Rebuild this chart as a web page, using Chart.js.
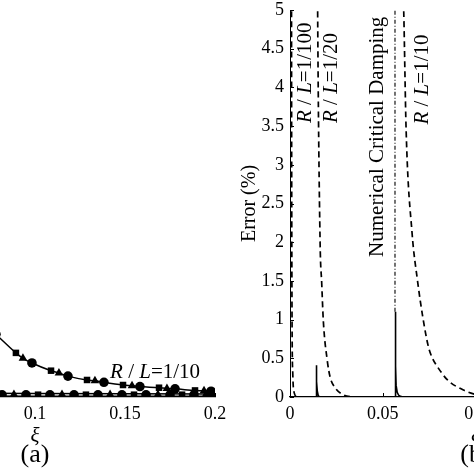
<!DOCTYPE html>
<html><head><meta charset="utf-8">
<script src="https://cdn.jsdelivr.net/npm/chart.js@4.4.1/dist/chart.umd.min.js"></script>
<style>
html,body{margin:0;padding:0;width:474px;height:474px;overflow:hidden;background:#fff;}
#ca{position:absolute;left:-215px;top:0;}
#cb{position:absolute;left:220px;top:0;}
</style></head><body>
<canvas id="ca" width="450" height="474" style="width:450px;height:474px"></canvas>
<canvas id="cb" width="441" height="474" style="width:441px;height:474px"></canvas>
<script>
// ---- shared ticks ----
const xTickVals = [0, 0.05, 0.1, 0.15, 0.2];
const yTickVals = [0, 0.5, 1, 1.5, 2, 2.5, 3, 3.5, 4, 4.5, 5];

// ---- panel (a) ----
const a10LineXi  = [0.07, 0.0783, 0.0806, 0.0894, 0.0933, 0.0983, 0.1089, 0.1133, 0.1183, 0.1289, 0.1333, 0.1383, 0.1489, 0.1539, 0.1583, 0.1689, 0.1733, 0.1778, 0.1889, 0.1939, 0.1978, 0.2];
const a10LineVal = [1.1, 0.81, 0.76, 0.57, 0.50, 0.44, 0.34, 0.31, 0.27, 0.22, 0.21, 0.19, 0.155, 0.145, 0.135, 0.12, 0.11, 0.105, 0.085, 0.08, 0.075, 0.073];
const a10SqXi  = [0.0894, 0.1089, 0.1289, 0.1489, 0.1689, 0.1889];
const a10SqVal = [0.57, 0.34, 0.22, 0.155, 0.12, 0.085];
const a10TriXi  = [0.0933, 0.1133, 0.1333, 0.1539, 0.1733, 0.1939];
const a10TriVal = [0.50, 0.31, 0.21, 0.145, 0.11, 0.08];
const a10CirXi  = [0.0783, 0.0983, 0.1183, 0.1383, 0.1583, 0.1778, 0.1978];
const a10CirVal = [0.81, 0.44, 0.27, 0.19, 0.135, 0.105, 0.075];

const a20LineXi  = [0.07, 0.1, 0.15, 0.2];
const a20LineVal = [0.05, 0.045, 0.042, 0.04];
const a100LineXi  = [0.07, 0.1, 0.15, 0.2];
const a100LineVal = [0.012, 0.01, 0.01, 0.01];
const lowCirXi  = [0.0817, 0.095, 0.1083, 0.1217, 0.135, 0.1483, 0.1617, 0.175, 0.1883, 0.1983];
const lowCirVal = [0.028, 0.028, 0.028, 0.028, 0.028, 0.028, 0.028, 0.028, 0.028, 0.028];
const lowTriXi  = [0.0883, 0.115, 0.1417, 0.1683, 0.195];
const lowTriVal = [0.032, 0.032, 0.032, 0.032, 0.032];
const lowSqXi  = [0.1017, 0.1283, 0.155, 0.1817];
const lowSqVal = [0.03, 0.03, 0.03, 0.03];

// ---- panel (b) ----
const r100Xi  = [0.0008, 0.0009, 0.0011, 0.0015, 0.0022, 0.004, 0.2];
const r100Val = [5.5, 3, 1, 0.3, 0.06, 0, 0];
const r20Xi  = [0.0148, 0.0149, 0.0162, 0.0171, 0.018, 0.0201, 0.0216, 0.0243, 0.0286, 0.033, 0.04, 0.2];
const r20Val = [5.5, 5, 2.03, 1.47, 0.97, 0.47, 0.26, 0.12, 0.03, 0.005, 0, 0];
const r10Xi  = [0.0607, 0.0613, 0.0626, 0.0658, 0.0687, 0.0716, 0.0746, 0.0768, 0.0795, 0.0849, 0.0935, 0.0989, 0.11, 0.13, 0.2];
const r10Val = [5.5, 5, 3.45, 2.12, 1.51, 1.03, 0.65, 0.5, 0.39, 0.22, 0.09, 0.04, 0.012, 0.002, 0];
const errXi  = [0, 0.0141, 0.0142, 0.0144, 0.0147, 0.0152, 0.016, 0.0567, 0.0568, 0.0570, 0.0572, 0.0578, 0.0585, 0.0595, 0.061, 0.2];
const errVal = [0, 0, 0.41, 0.2, 0.08, 0.02, 0, 0, 1.1, 0.4, 0.15, 0.06, 0.025, 0.008, 0, 0];
const critXi  = [0.0566, 0.0566];
const critVal = [1.1, 5.5];

const SERIF = "'Liberation Serif', 'Times New Roman', serif";
const pts = (xs, ys) => xs.map((x, i) => ({x: x, y: ys[i]}));

function lineDs(xs, ys, dash, width) {
  return {type: 'line', data: pts(xs, ys), borderColor: '#000', borderWidth: width || 1.5,
    borderDash: dash || [], pointRadius: 0, fill: false, tension: 0};
}
function markDs(xs, ys, style, r) {
  return {type: 'scatter', data: pts(xs, ys), pointStyle: style, pointRadius: r,
    backgroundColor: '#000', borderColor: '#000', borderWidth: 0, showLine: false};
}

function drawRich(ctx, x, y, rot, segs, size, baseline) {
  ctx.save();
  ctx.translate(x, y);
  ctx.rotate(rot);
  ctx.textBaseline = baseline;
  ctx.textAlign = 'left';
  ctx.fillStyle = '#000';
  let cx = 0;
  segs.forEach(s => {
    ctx.font = (s.i ? 'italic ' : '') + size + 'px ' + SERIF;
    ctx.fillText(s.t, cx, 0);
    cx += ctx.measureText(s.t).width;
  });
  ctx.restore();
}
const RL = (tail) => [{t: 'R', i: true}, {t: ' / '}, {t: 'L', i: true}, {t: tail}];

function makeOptions(panelLetter, notes, showY) {
  const tickPlugin = {
    id: 'inTicks' + panelLetter,
    afterDraw(chart) {
      const ctx = chart.ctx, ca = chart.chartArea;
      const xs = chart.scales.x, ys = chart.scales.y;
      ctx.save();
      ctx.strokeStyle = '#000';
      ctx.lineWidth = 1;
      xTickVals.forEach(v => {
        const px = Math.round(xs.getPixelForValue(v)) + 0.5;
        ctx.beginPath(); ctx.moveTo(px, ca.bottom); ctx.lineTo(px, ca.bottom - 4); ctx.stroke();
      });
      yTickVals.forEach(v => {
        const py = Math.round(ys.getPixelForValue(v)) + 0.5;
        ctx.beginPath(); ctx.moveTo(ca.left, py); ctx.lineTo(ca.left + 4, py); ctx.stroke();
      });
      ctx.restore();
      notes.forEach(n => {
        drawRich(ctx, xs.getPixelForValue(n.x), ys.getPixelForValue(n.y), n.rot, n.segs, n.size, n.base);
      });
      ctx.save();
      ctx.font = '26px ' + SERIF;
      ctx.textAlign = 'center';
      ctx.textBaseline = 'middle';
      ctx.fillStyle = '#000';
      ctx.fillText('(' + panelLetter + ')', (ca.left + ca.right) / 2, 455);
      ctx.restore();
    }
  };
  return {
    plugins: [tickPlugin],
    options: {
      responsive: false, animation: false,
      layout: {padding: {top: 10, bottom: 0, left: 0, right: panelLetter === 'a' ? 20 : 0}},
      plugins: {legend: {display: false}, tooltip: {enabled: false}},
      scales: {
        x: {
          type: 'linear', min: 0, max: 0.2,
          afterBuildTicks: s => { s.ticks = xTickVals.map(v => ({value: v})); },
          afterFit: s => { s.height = 77; s.paddingLeft = 0; s.paddingRight = 0; },
          ticks: {color: '#000', padding: 6, font: {family: SERIF, size: 18}, maxRotation: 0,
                  callback: v => String(+v.toFixed(2))},
          grid: {display: true, drawOnChartArea: false, drawTicks: false},
          border: {display: true, color: '#000', width: 1.3},
          title: {display: true, text: 'ξ', color: '#000', font: {family: SERIF, size: 21, style: 'italic'},
                  padding: {top: 0, bottom: 25}}
        },
        y: {
          type: 'linear', min: 0, max: 5,
          afterBuildTicks: s => { s.ticks = yTickVals.map(v => ({value: v})); },
          afterFit: s => { s.width = 70; s.paddingTop = 0; s.paddingBottom = 0; },
          ticks: {color: '#000', padding: 6, font: {family: SERIF, size: 18},
                  callback: v => String(+v.toFixed(1))},
          grid: {display: true, drawOnChartArea: false, drawTicks: false},
          border: {display: true, color: '#000', width: 1},
          title: {display: showY, text: 'Error (%)', color: '#000', font: {family: SERIF, size: 20},
                  padding: {top: 18, bottom: 0}}
        }
      }
    }
  };
}

// chart (a)
const optA = makeOptions('a', [
  {x: 0.1417, y: 0.246, rot: 0, segs: RL('=1/10'), size: 21, base: 'alphabetic'}
], true);
new Chart(document.getElementById('ca'), {
  type: 'line',
  data: {datasets: [
    Object.assign(lineDs(a10LineXi, a10LineVal, [], 1.5), {cubicInterpolationMode: 'monotone'}),
    lineDs(a20LineXi, a20LineVal, [], 1.5),
    lineDs(a100LineXi, a100LineVal, [], 1.5),
    markDs(a10SqXi, a10SqVal, 'rect', 4.6),
    markDs(a10TriXi, a10TriVal, 'triangle', 5),
    markDs(a10CirXi, a10CirVal, 'circle', 4.8),
    markDs(lowSqXi, lowSqVal, 'rect', 4.6),
    markDs(lowTriXi, lowTriVal, 'triangle', 5),
    markDs(lowCirXi, lowCirVal, 'circle', 4.8)
  ]},
  options: optA.options,
  plugins: optA.plugins
});

// chart (b)
const optB = makeOptions('b', [
  {x: 0.0081, y: 3.54, rot: -Math.PI / 2, segs: RL('=1/100'), size: 21, base: 'middle'},
  {x: 0.0221, y: 3.54, rot: -Math.PI / 2, segs: RL('=1/20'), size: 21, base: 'middle'},
  {x: 0.0469, y: 1.81, rot: -Math.PI / 2, segs: [{t: 'Numerical Critical Damping'}], size: 21, base: 'middle'},
  {x: 0.0712, y: 3.52, rot: -Math.PI / 2, segs: RL('=1/10'), size: 21, base: 'middle'}
], true);
new Chart(document.getElementById('cb'), {
  type: 'line',
  data: {datasets: [
    Object.assign(lineDs(r100Xi, r100Val, [6, 4], 1.7), {cubicInterpolationMode: 'monotone'}),
    Object.assign(lineDs(r20Xi, r20Val, [6, 4], 1.7), {cubicInterpolationMode: 'monotone'}),
    Object.assign(lineDs(r10Xi, r10Val, [6, 4], 1.7), {cubicInterpolationMode: 'monotone'}),
    lineDs(critXi, critVal, [4, 2, 1, 2], 1.1),
    lineDs(errXi, errVal, [], 1.6)
  ]},
  options: optB.options,
  plugins: optB.plugins
});
</script>
</body></html>
